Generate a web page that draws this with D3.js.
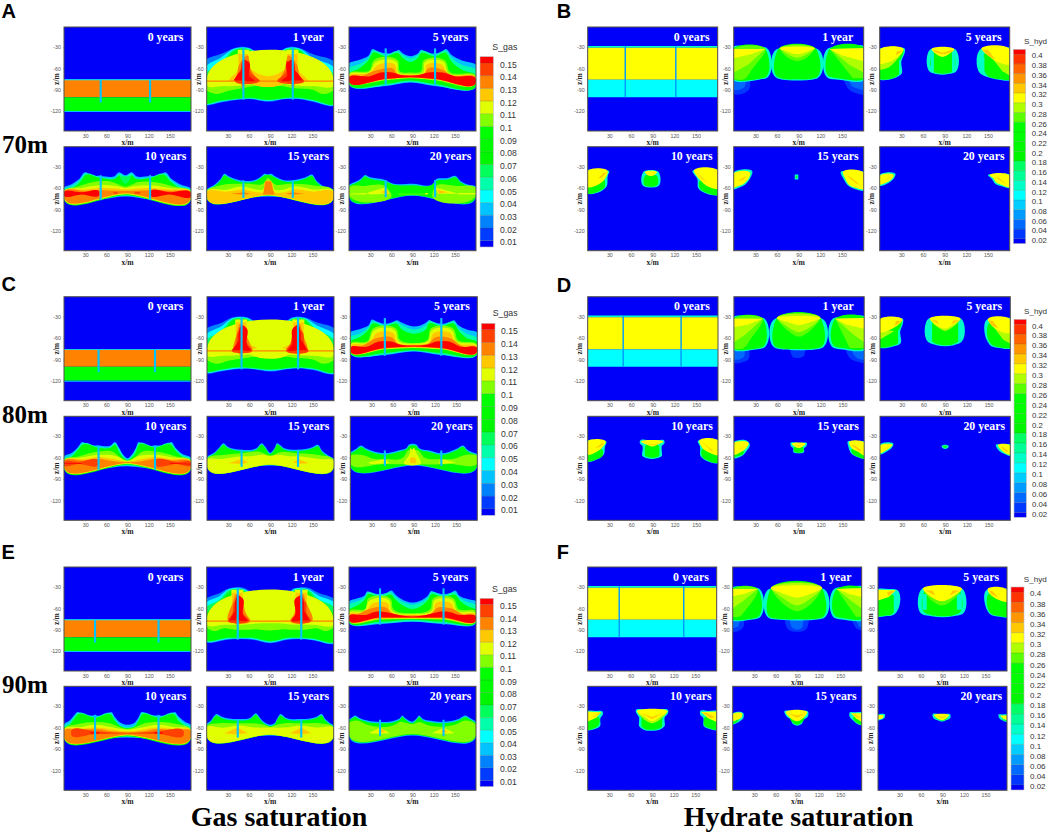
<!DOCTYPE html>
<html><head><meta charset="utf-8">
<script src="https://cdn.jsdelivr.net/npm/d3@7"></script>
<style>html,body{margin:0;background:#fff}svg{display:block}</style></head>
<body><svg id="c" width="1052" height="834"></svg>
<script>
// ---------- values ----------
const xTickValues=[30,60,90,120,150];
const zTickValues=[-30,-60,-90,-120];
const timeLabels=["0 years","1 year","5 years","10 years","15 years","20 years"];
const gasLevels=[.01,.02,.03,.04,.05,.06,.07,.08,.09,.1,.11,.12,.13,.14,.15];
const hydLevels=[.02,.04,.06,.08,.1,.12,.14,.16,.18,.2,.22,.24,.26,.28,.3,.32,.34,.36,.38,.4];
const gasColors=["#0000fa","#003cff","#0082ff","#00c3ff","#00ffff","#00ffaa","#00ff5a","#00f500","#00fa00","#00ff00","#82ff00","#e1ff00","#ffc800","#ff8200","#ff4100","#ff0000"];
const hydColors=["#0000fa","#0037ff","#0069ff","#009bff","#00cdff","#00ffff","#00ffc8","#00ff96","#00ff64","#00f500","#00fa00","#00ff00","#00ff00","#5aff00","#afff00","#ffff00","#ffc800","#ff9600","#ff6400","#ff3200","#ff0000"];
const wells70=[52,122], wells80=[49,129], wells90=[44,134];
const gasSpans70=[[-76,-108],[-31,-104],[-32,-85],[-42,-77],[-49,-74],[-49,-73]];
const gasSpans80=[[-76,-108],[-31,-104],[-32,-85],[-43,-77],[-49,-73],[-50,-72]];
const gasSpans90=[[-76,-108],[-31,-104],[-32,-83],[-42,-77],[-48,-74],[-49,-72]];
const hydSpan0=[-28.5,-100.5];

// each layer: saturation, then x,z,x,z... of its contour
const gas0=[[.135,0,-76,180,-76,180,-100.5,0,-100.5],[.095,0,-100.5,180,-100.5,180,-120,0,-120],[.035,0,-120,180,-120,180,-121.5,0,-121.5],[.045,0,-75.5,180,-75.5,180,-76.6,0,-76.6]];
const hyd0=[[.13,0,-28.5,180,-28.5,180,-31,0,-31],[.31,0,-31,180,-31,180,-76,0,-76],[.11,0,-76,180,-76,180,-100.5,0,-100.5]];

const gas70y1=[
[.025,0,-47,20,-40,41,-31,46,-30,60,-31,70,-36,87,-42,103,-36,113,-31,118,-30,130,-31,150,-40,180,-50,180,-113,150,-107,130,-103,113,-103,88,-107,60,-103,45,-104,20,-108,0,-112],
[.045,0,-56,20,-45,41,-32,60,-32,70,-38,87,-44,103,-38,113,-32,130,-32,150,-45,180,-58,180,-112,150,-106,130,-102.5,113,-102.5,88,-106,60,-102.5,45,-103.5,20,-107,0,-111],
[.065,0,-66,20,-52,41,-33,60,-33,72,-41,87,-47,102,-41,113,-33,130,-33,150,-52,180,-68,180,-111,150,-105,130,-102,113,-102,88,-105,60,-102,45,-103,20,-106,0,-110],
[.09,0,-73,20,-60,41,-35,60,-35,72,-44,87,-52,102,-44,113,-35,130,-35,150,-58,180,-73,180,-110,150,-104,130,-101,113,-101,88,-104,60,-101,45,-102,20,-105,0,-109],
[.105,0,-78,180,-78,180,-90,165,-96,150,-90,125,-88,100,-84,75,-84,50,-88,30,-92,15,-96,0,-90],
[.105,60,-45,72,-55,87,-60,102,-55,113,-45,113,-77,60,-77],[.105,44,-45,44,-77,0,-77,20,-66],[.105,130,-45,130,-77,180,-77,160,-66],
[.115,0,-77,180,-77,180,-83,150,-85,125,-84,100,-81,75,-81,50,-84,25,-85,0,-83],
[.115,60,-52,72,-62,87,-66,102,-62,113,-52,113,-77,60,-77],[.115,44,-55,44,-77,10,-77],[.115,130,-55,130,-77,170,-77],
[.115,44,-34,60,-34,60,-78,44,-78],[.115,113,-34,130,-34,130,-78,113,-78],
[.125,60,-62,74,-68,87,-71,100,-68,113,-62,113,-76,60,-76],[.125,45,-40,59,-40,59,-78,45,-78],[.125,114,-40,129,-40,129,-78,114,-78],[.125,35,-72,47,-62,47,-78,30,-78],[.125,127,-62,139,-72,145,-78,127,-78],
[.135,0,-77,180,-77,180,-79,0,-79],[.135,46,-55,58,-42,62,-60,70,-76,46,-79],[.135,111,-60,116,-42,128,-55,128,-79,105,-76],[.135,48,-78,51,-94,55,-78],[.135,119,-78,122,-94,126,-78],
[.145,43,-70,60,-50,62,-65,75,-77,40,-77],[.145,113,-50,131,-70,138,-77,100,-77,112,-65],
[.155,54,-48,60,-52,61,-72,68,-77,54,-77],[.155,44,-68,50,-62,50,-77,38,-77],[.155,114,-52,120,-48,120,-77,106,-77,113,-72],[.155,124,-62,130,-68,136,-77,124,-77]];
const gas70y5=[
[.03,0,-53,15,-48,28,-42,34,-33,38,-35,52,-39,66,-37,70,-34,76,-39,87,-43,98,-39,102,-34,108,-37,122,-39,133,-36,137,-33,145,-41,160,-49,180,-55,180,-86,122,-85,87,-80,52,-85,0,-83],
[.055,0,-60,15,-54,28,-45,34,-35,52,-41,70,-36,76,-41,87,-46,98,-41,102,-36,122,-41,137,-35,145,-45,160,-55,180,-62,180,-85,122,-84,87,-79,52,-84,0,-82],
[.09,0,-68,15,-60,28,-48,34,-38,52,-43,70,-39,76,-45,87,-51,98,-45,102,-39,122,-43,137,-38,145,-50,160,-62,180,-70,180,-84,122,-82,87,-77,52,-82,0,-81],
[.105,0,-68,30,-62,34,-50,70,-50,72,-64,87,-66,102,-64,105,-50,137,-50,142,-64,180,-72,180,-79,122,-77,87,-74,52,-77,0,-77],
[.115,0,-70,30,-64,37,-52,68,-52,70,-66,87,-68,105,-66,107,-52,135,-52,140,-66,180,-74,180,-78,122,-76,87,-73.5,52,-76,0,-76],
[.125,0,-72,30,-66,40,-56,66,-56,68,-66,87,-69,108,-66,109,-56,133,-56,138,-66,180,-75,180,-77.5,122,-75.5,87,-73,52,-75.5,0,-76],
[.135,20,-70,42,-62,64,-62,66,-66,87,-69.5,108,-66,110,-62,133,-62,145,-70,180,-75,180,-77,122,-75,87,-73,52,-75,0,-76],
[.155,0,-74,30,-71,45,-66,62,-66,72,-69,87,-70.5,100,-69,112,-66,133,-66,150,-71,180,-76,180,-77.5,122,-75,87,-72.5,52,-75,0,-76.5]];
const gas70y10=[
[.03,0,-59,10,-55,22,-47,30,-38,38,-42,52,-43,72,-43,78,-38,84,-41,87,-42,90,-41,96,-38,102,-43,122,-43,138,-42,143,-38,152,-47,165,-55,180,-61,180,-76,122,-76,87,-72,52,-76,0,-76],
[.05,0,-62,10,-58,22,-49,30,-40,52,-45,74,-45,78,-40,87,-44,96,-40,100,-45,122,-45,143,-40,152,-49,165,-58,180,-63,180,-75,122,-75,87,-71,52,-75,0,-75],
[.09,0,-64,12,-60,24,-50,30,-42,52,-46,74,-46,78,-42,82,-48,87,-52,92,-48,96,-42,100,-46,122,-46,143,-42,150,-50,165,-60,180,-65,180,-74,87,-70,0,-74],
[.065,80,-44,87,-44,94,-44,92,-50,87,-54,82,-50],
[.105,0,-65,20,-58,40,-52,70,-52,80,-56,87,-58,94,-56,104,-52,130,-52,155,-58,180,-66,180,-72.5,87,-69,0,-72.5],
[.115,0,-65.5,25,-60,50,-56,78,-58,87,-60,96,-58,122,-56,150,-60,180,-67,180,-71.5,87,-68.5,0,-71.5],
[.125,0,-66,30,-62,52,-60,78,-61,87,-62,100,-61,122,-60,150,-62,180,-67.5,180,-71,87,-68,0,-71],
[.135,0,-66,30,-64,52,-63,75,-64,87,-64,100,-64,122,-63,150,-64,180,-68,180,-70.5,87,-67.5,0,-70.5],
[.155,0,-67,25,-66,50,-66,50,-69,25,-69,0,-69.5],[.155,122,-66,150,-66,180,-68.5,180,-70,150,-69,122,-69],[.145,70,-65.5,76,-65.5,76,-68,70,-68],[.145,100,-65.5,108,-65.5,108,-68,100,-68]];
const gas70y15=[
[.03,0,-62,10,-56,20,-47,25,-40,32,-44,52,-50,70,-48,78,-43,82,-40,87,-41,91,-40,96,-43,110,-49,122,-49,140,-45,149,-41,156,-50,168,-59,180,-63,180,-74,122,-74,87,-72,52,-74,0,-74],
[.09,0,-64,10,-58,20,-49,25,-42,32,-46,52,-52,70,-50,78,-45,82,-42,91,-42,96,-45,110,-51,122,-51,140,-47,149,-43,156,-52,168,-61,180,-65,180,-72,87,-70.5,0,-72],
[.105,0,-65,20,-56,40,-54,60,-54,80,-54,87,-46,95,-54,120,-54,150,-56,180,-65,180,-71,87,-70,0,-71],
[.115,0,-66,30,-62,50,-58,70,-62,80,-62,83,-52,92,-52,96,-62,110,-62,122,-58,150,-62,180,-66,180,-70.5,87,-70,0,-70.5],
[.125,0,-67,30,-65,52,-62,72,-66,80,-66,84,-50,91,-50,96,-66,110,-66,122,-62,150,-65,180,-67,180,-70,87,-69.5,0,-70],
[.135,83,-51,91,-51,96,-69,80,-69],[.135,35,-68,52,-66,62,-68,52,-69.5],[.135,112,-68,122,-66,138,-68,122,-69.5]];
const gas70y20=[
[.03,0,-56,10,-51,18,-46,22,-42,30,-45,52,-49,60,-53,90,-54,120,-53,122,-49,140,-46,151,-43,158,-50,168,-55,180,-58,180,-72,90,-71,0,-72],
[.09,0,-58,10,-53,18,-48,22,-44,30,-47,52,-51,62,-55,90,-56,118,-55,122,-51,140,-48,151,-45,158,-52,168,-57,180,-60,180,-70.5,90,-70,0,-70.5],
[.105,0,-60,22,-57,52,-58,60,-69,0,-69],[.105,122,-58,152,-57,180,-61,180,-69,118,-69],[.105,70,-68,110,-68,110,-69,70,-69],
[.115,25,-67,52,-59,58,-68,30,-69],[.115,122,-59,126,-68,155,-68],[.115,0,-68,25,-67,25,-69,0,-69],[.115,155,-67,180,-67,180,-69,155,-69],
[.125,45,-66,54,-62,56,-68],[.125,124,-62,128,-68,140,-66],[.115,108,-67,112,-67,112,-69,108,-69]];

const gas80y1=[
[.025,0,-46,20,-39,37,-31,42,-30,57,-31,70,-38,90,-45,110,-38,121,-31,126,-30,138,-31,155,-38,180,-46,180,-111,150,-105,138,-103,121,-103,90,-107,57,-103,40,-104,20,-107,0,-110],
[.045,0,-54,20,-44,37,-32,57,-32,70,-40,90,-47,110,-40,121,-32,138,-32,155,-42,180,-54,180,-110,150,-104,138,-102.5,121,-102.5,90,-106,57,-102.5,40,-103,20,-106,0,-109],
[.065,0,-62,20,-50,37,-33,57,-33,72,-44,90,-53,108,-44,121,-33,138,-33,155,-48,180,-62,180,-109,150,-103,138,-102,121,-102,90,-105,57,-102,40,-102,20,-105,0,-108],
[.09,0,-70,20,-58,37,-35,57,-35,72,-48,90,-59,108,-48,121,-35,138,-35,155,-55,180,-70,180,-108,150,-102,138,-101,121,-101,90,-104,57,-101,40,-101,20,-104,0,-107],
[.105,0,-78,180,-78,180,-90,165,-96,150,-90,125,-88,105,-86,90,-88,75,-86,55,-88,30,-92,15,-96,0,-90],
[.105,57,-50,72,-62,90,-68,108,-62,121,-50,121,-77,57,-77],[.105,40,-47,40,-77,5,-77,20,-66],[.105,138,-47,138,-77,175,-77,160,-66],
[.115,0,-77,180,-77,180,-83,150,-85,125,-84,100,-82,80,-82,50,-84,25,-85,0,-83],
[.115,57,-58,72,-68,90,-72,108,-68,121,-58,121,-77,57,-77],[.115,40,-55,40,-77,15,-77],[.115,138,-55,138,-77,165,-77],
[.115,40,-34,57,-34,57,-78,40,-78],[.115,121,-34,138,-34,138,-78,121,-78],
[.125,41,-38,56,-38,56,-78,41,-78],[.125,122,-38,137,-38,137,-78,122,-78],[.125,57,-68,72,-74,57,-77],[.125,121,-68,106,-74,121,-77],
[.135,0,-77,180,-77,180,-79,0,-79],[.135,42,-55,47,-40,55,-55,62,-70,65,-77,38,-77],[.135,114,-77,118,-70,124,-55,131,-40,136,-55,142,-77],[.135,45,-78,48,-92,52,-78],[.135,127,-78,130,-92,133,-78],
[.145,40,-70,46,-50,53,-50,57,-68,64,-77,35,-77],[.145,118,-68,124,-50,134,-50,139,-70,144,-77,112,-77],
[.155,51,-42,56,-46,57,-70,62,-77,51,-77],[.155,41,-70,47,-60,47,-77,36,-77],[.155,122,-46,127,-42,127,-77,115,-77,120,-70],[.155,131,-60,137,-68,142,-77,131,-77]];
const gas80y5=[
[.03,0,-52,15,-47,26,-42,31,-34,36,-36,49,-40,60,-38,66,-35,72,-38,90,-44,108,-38,111,-35,118,-38,129,-40,142,-37,147,-35,152,-41,165,-48,180,-52,180,-83,129,-84,90,-79,49,-84,0,-82],
[.055,0,-59,15,-53,26,-45,31,-37,49,-42,66,-37,72,-41,90,-48,108,-41,111,-37,129,-42,147,-37,152,-45,165,-54,180,-60,180,-82,129,-83,90,-78,49,-83,0,-81],
[.09,0,-66,15,-58,26,-48,31,-40,49,-44,66,-40,72,-47,90,-54,108,-47,111,-40,129,-44,147,-40,154,-50,165,-60,180,-66,180,-81,129,-81,90,-77,49,-81,0,-80],
[.105,0,-68,25,-64,31,-48,66,-48,70,-62,90,-67,110,-62,113,-48,147,-48,152,-62,180,-70,180,-78,129,-76,90,-74,49,-76,0,-78],
[.115,0,-70,25,-66,33,-50,64,-50,68,-64,90,-68,110,-64,115,-50,145,-50,150,-64,180,-72,180,-77.5,129,-75.5,90,-73.5,49,-75.5,0,-77.5],
[.125,0,-72,28,-67,36,-54,62,-54,66,-66,90,-69,112,-66,117,-54,143,-54,148,-66,180,-74,180,-77,129,-75,90,-73,49,-75,0,-77],
[.135,15,-72,38,-60,60,-60,66,-67,90,-70,112,-67,119,-60,141,-60,160,-72,180,-75,180,-76.5,129,-74.5,90,-72.5,49,-74.5,0,-76.5],
[.155,0,-75,25,-72,40,-65,58,-65,70,-69,90,-70.5,110,-69,122,-65,140,-65,155,-72,180,-75.5,180,-76.5,129,-74,90,-72,49,-74,0,-76.5]];
const gas80y10=[
[.03,0,-58,10,-54,20,-45,26,-38,32,-42,49,-43,66,-43,72,-38,78,-46,84,-56,90,-61,96,-56,102,-46,106,-38,112,-43,129,-43,146,-42,152,-38,158,-46,168,-55,180,-60,180,-76,129,-76,90,-72,49,-76,0,-76],
[.05,0,-61,10,-57,20,-47,26,-40,49,-45,66,-45,72,-40,78,-48,84,-58,90,-63,96,-58,102,-48,106,-40,129,-45,152,-40,158,-48,168,-57,180,-62,180,-75,129,-75,90,-71,49,-75,0,-75],
[.09,0,-63,10,-59,20,-49,26,-42,49,-46,66,-46,72,-42,78,-52,84,-60,90,-64,96,-60,102,-52,106,-42,129,-46,152,-42,158,-50,168,-59,180,-64,180,-74,90,-70,0,-74],
[.105,0,-64,22,-58,45,-52,70,-52,80,-60,90,-64,100,-60,110,-52,135,-52,158,-58,180,-65,180,-72,90,-69,0,-72],
[.115,0,-65,25,-60,50,-56,75,-58,90,-65,105,-58,129,-56,155,-60,180,-66,180,-71.5,90,-68.5,0,-71.5],
[.125,0,-65.5,30,-62,49,-59,70,-62,90,-65.5,110,-62,129,-59,150,-62,180,-67,180,-71,90,-68,0,-71],
[.135,0,-66,30,-64,49,-62,70,-65,90,-66.5,110,-65,129,-62,150,-64,180,-67.5,180,-70.5,90,-67.5,0,-70.5],
[.145,0,-67,20,-66,49,-65,49,-69,20,-69,0,-70],[.145,129,-65,160,-66,180,-68,180,-70,160,-69,129,-69],[.155,0,-68,25,-67.5,25,-68.5,0,-69],[.155,150,-67.5,180,-68.5,180,-69.5,150,-68.5]];
const gas80y15=[
[.03,0,-59,10,-53,18,-45,23,-40,30,-45,49,-49,70,-47,78,-40,82,-44,90,-53,96,-46,99,-40,110,-47,129,-49,150,-45,157,-42,163,-50,172,-57,180,-62,180,-73,129,-73,90,-71,49,-73,0,-73],
[.09,0,-61,10,-55,18,-47,23,-42,30,-47,49,-51,70,-49,78,-42,82,-46,90,-55,96,-48,99,-42,110,-49,129,-51,150,-47,157,-44,163,-52,172,-59,180,-64,180,-71.5,90,-70,0,-71.5],
[.105,0,-62,25,-56,49,-54,75,-52,90,-57,105,-52,129,-54,155,-56,180,-64,180,-71,90,-70,0,-71],
[.115,0,-64,20,-62,49,-58,62,-58,80,-56,90,-58,100,-56,118,-58,129,-58,160,-62,180,-65,180,-70.5,90,-69.5,0,-70.5],
[.125,30,-68,49,-62,58,-67,50,-69],[.125,122,-67,129,-62,145,-68,130,-69]];
const gas80y20=[
[.03,0,-53,8,-48,15,-43,22,-47,49,-54,68,-50,80,-46,83,-42,94,-42,97,-46,112,-50,129,-54,150,-48,160,-43,166,-49,172,-52,180,-55,180,-71.5,90,-71,0,-71.5],
[.09,0,-55,8,-50,15,-45,22,-49,49,-56,68,-52,80,-48,83,-44,94,-44,97,-48,112,-52,129,-56,150,-50,160,-45,166,-51,172,-54,180,-57,180,-70.5,90,-70,0,-70.5],
[.105,0,-58,15,-56,35,-62,49,-62,75,-60,82,-50,96,-50,105,-60,129,-62,145,-62,165,-56,180,-58,180,-67,140,-69,49,-69,0,-67],
[.115,25,-67,49,-62,56,-68,30,-69],[.115,125,-68,129,-62,150,-67,130,-69],[.115,76,-68,85,-52,85,-46,88,-49,90,-46,93,-52,100,-68],[.125,85,-60,92,-60,94,-68,84,-68]];

const gas90y1=[
[.025,0,-46,18,-39,32,-32,36,-31,52,-31,65,-38,90,-47,115,-38,124,-32,130,-31,143,-31,158,-38,180,-46,180,-110,150,-105,134,-103,115,-104,90,-109,65,-104,44,-103,30,-104,0,-108],
[.045,0,-51,18,-43,32,-33,52,-33,65,-41,90,-49,115,-41,124,-33,143,-33,158,-42,180,-51,180,-109,150,-104,134,-102.5,115,-103,90,-108,65,-103,44,-102.5,30,-103,0,-107],
[.065,0,-58,18,-48,33,-34,52,-34,67,-45,90,-54,113,-45,125,-34,143,-34,158,-47,180,-58,180,-108,150,-103,134,-102,115,-102,90,-107,65,-102,44,-102,30,-102,0,-106],
[.09,0,-66,18,-55,34,-36,52,-36,67,-52,90,-62,113,-52,125,-36,143,-36,158,-54,180,-66,180,-107,150,-102,134,-101,115,-101,90,-106,65,-101,44,-101,30,-101,0,-105],
[.105,0,-79,180,-79,180,-86,170,-92,155,-88,140,-90,120,-90,100,-89,80,-89,60,-90,40,-90,25,-88,10,-92,0,-86],
[.105,53,-58,66,-68,85,-74,95,-74,114,-68,125,-58,125,-77,53,-77],[.105,34,-52,34,-77,5,-77,18,-66],[.105,143,-52,143,-77,175,-77,160,-66],
[.115,0,-77,180,-77,180,-82,150,-83,125,-83,100,-81,80,-81,50,-83,25,-83,0,-82],
[.115,53,-68,70,-74,70,-77,53,-77],[.115,125,-68,108,-74,108,-77,125,-77],[.115,34,-62,34,-77,18,-77],[.115,143,-62,143,-77,160,-77],
[.115,35,-34,52,-34,52,-78,35,-78],[.115,125,-34,143,-34,143,-78,125,-78],
[.125,36,-38,51,-38,51,-78,36,-78],[.125,126,-38,142,-38,142,-78,126,-78],
[.135,0,-77,180,-77,180,-79,0,-79],[.135,37,-52,42,-40,50,-50,56,-68,62,-77,30,-77],[.135,118,-77,124,-68,127,-50,136,-40,141,-52,150,-77],[.135,41,-78,44,-90,47,-78],[.135,131,-78,134,-90,137,-78],
[.145,36,-68,41,-50,48,-50,52,-68,60,-77,30,-77],[.145,120,-77,126,-68,130,-50,139,-50,142,-68,148,-77],
[.155,46,-42,51,-46,52,-70,58,-77,46,-77],[.155,36,-70,42,-60,42,-77,32,-77],[.155,126,-46,132,-42,132,-77,120,-77,125,-70],[.155,136,-60,142,-70,146,-77,136,-77]];
const gas90y5=[
[.03,0,-50,12,-46,22,-42,26,-36,32,-38,44,-40,54,-38,60,-35,66,-41,78,-49,90,-52,102,-49,112,-42,116,-36,124,-38,134,-40,145,-38,150.5,-35,156,-42,168,-47,180,-50,180,-81,134,-82,90,-79,44,-82,0,-81],
[.055,0,-55,12,-50,22,-45,26,-38,44,-42,60,-38,66,-44,78,-52,90,-55,102,-52,112,-45,116,-38,134,-42,150.5,-38,156,-45,168,-51,180,-55,180,-80,134,-81,90,-78,44,-81,0,-80],
[.09,0,-62,12,-56,22,-48,26,-41,44,-44,60,-41,66,-48,78,-57,90,-61,102,-57,112,-48,116,-41,134,-44,150.5,-41,158,-50,168,-57,180,-62,180,-79,134,-79,90,-76,44,-79,0,-79],
[.105,0,-64,24,-60,26,-48,60,-48,62,-60,90,-67,116,-60,118,-48,150,-48,154,-60,180,-65,180,-77,134,-76,90,-75,44,-76,0,-77],
[.115,0,-67,22,-63,28,-50,58,-50,60,-62,90,-68,118,-62,120,-50,148,-50,152,-62,180,-68,180,-76,134,-75,90,-74.5,44,-75,0,-76],
[.125,0,-69,24,-65,32,-54,56,-54,58,-64,90,-69,120,-64,122,-54,146,-54,150,-65,180,-70,180,-75.5,134,-74.5,90,-74,44,-74.5,0,-75.5],
[.135,10,-70,32,-60,54,-60,60,-66,90,-70,118,-66,124,-60,144,-60,168,-71,180,-71.5,180,-75,134,-74,90,-73.5,44,-74,0,-75],
[.155,0,-72,25,-69,36,-65,52,-65,65,-68,90,-71.5,115,-68,126,-65,142,-65,155,-69,180,-73,180,-74.5,134,-73,90,-73,44,-73,0,-74.5]];
const gas90y10=[
[.03,0,-55,8,-50,15,-42,19,-38,26,-42,44,-43,62,-42,67,-38,72,-45,80,-53,90,-56,100,-53,106,-45,110,-38,118,-42,134,-43,152,-42,157,-38,162,-44,172,-52,180,-56,180,-76,134,-76,90,-74,44,-76,0,-75],
[.05,0,-58,8,-53,15,-44,19,-40,44,-45,67,-40,72,-48,80,-57,90,-60,100,-57,106,-48,110,-40,134,-45,157,-40,162,-47,172,-55,180,-59,180,-75,134,-75,90,-73,44,-75,0,-74],
[.09,0,-61,8,-56,15,-47,19,-42,44,-46,67,-42,72,-50,80,-58,90,-61,100,-58,106,-50,110,-42,134,-46,157,-42,162,-50,172,-58,180,-62,180,-74,90,-72,0,-74],
[.105,0,-62,20,-55,44,-52,65,-54,80,-60,90,-62,100,-60,114,-54,134,-52,160,-55,180,-63,180,-72,90,-71,0,-72],
[.115,0,-63,25,-59,44,-56,70,-60,90,-63,110,-60,134,-56,155,-59,180,-64,180,-71.5,90,-70.5,0,-71.5],
[.125,0,-64,25,-62,44,-60,70,-63,90,-65,110,-63,134,-60,155,-62,180,-65,180,-71,90,-70,0,-71],
[.135,0,-65,25,-64,44,-62,70,-65.5,90,-66.5,110,-65.5,134,-62,155,-64,180,-66,180,-70.5,90,-69.5,0,-70.5],
[.145,10,-66,44,-65,70,-67,110,-67,134,-65,170,-67,170,-69,134,-69,110,-68.5,70,-68.5,44,-69,10,-69],[.155,38,-66.5,50,-66.5,50,-68.5,38,-68.5],[.155,128,-66.5,140,-66.5,140,-68.5,128,-68.5]];
const gas90y15=[
[.03,0,-55,6,-50,11,-43,14,-41,20,-44,44,-48,62,-46,70,-40,76,-47,84,-54,90,-56,96,-54,100,-47,104.6,-41,112,-46,134,-48,155,-45,163,-41,168,-48,174,-53,180,-57,180,-73,134,-74,90,-71,44,-74,0,-73],
[.09,0,-57,6,-52,11,-45,14,-43,20,-46,44,-50,62,-48,70,-42,76,-49,84,-56,90,-58,96,-56,100,-49,104.6,-43,112,-48,134,-50,155,-47,163,-43,168,-50,174,-55,180,-59,180,-71.5,90,-70,0,-71.5],
[.105,0,-58,18,-54,44,-54,65,-54,84,-57,90,-59,96,-57,110,-54,134,-54,160,-54,180,-60,180,-71,90,-70,0,-71],
[.115,0,-60,25,-60,44,-57,70,-60,90,-60,110,-60,134,-57,155,-60,180,-61,180,-70.5,90,-69.5,0,-70.5],
[.125,25,-68,44,-60,58,-68,40,-69.5],[.125,118,-68,134,-60,148,-68,134,-69.5]];
const gas90y20=[
[.03,0,-49,5,-45,8.5,-43,14,-46,26,-50,44,-52,65,-50,72,-47,75.5,-43,80,-47,90,-51.5,96,-47,99,-43,105,-48,120,-51,134,-52,155,-48,165.5,-43,172,-47,180,-52,180,-72,90,-71,0,-72],
[.09,0,-51,5,-47,8.5,-45,14,-48,26,-52,44,-54,65,-52,72,-49,75.5,-45,80,-49,90,-53.5,96,-49,99,-45,105,-50,120,-53,134,-54,155,-50,165.5,-45,172,-49,180,-54,180,-70.5,90,-70,0,-70.5],
[.105,0,-53,10,-50,26,-56,65,-56,72,-52,90,-55,100,-52,110,-56,150,-56,165,-50,180,-56,180,-69,90,-69,0,-69],
[.115,28,-68,44,-60,58,-68,42,-69],[.115,118,-68,134,-60,150,-68,134,-69],[.125,42,-66,47,-62,52,-67],[.125,130,-67,134,-62,140,-66]];

const hyd70y1=[
[.03,0,-76,22,-76,21,-90,14,-95,0,-96],[.05,0,-76,16,-76,15,-86,8,-90,0,-90],[.03,153,-76,180,-76,180,-97,170,-95,160,-90],[.05,160,-76,180,-76,180,-90,170,-88,163,-84],
[.13,0,-29,25,-30,45,-31,45,-74,35,-76,0,-77],[.25,0,-32,43,-32,43,-73,33,-75,0,-75.5],[.27,0,-33,44,-33,25,-62,15,-75,0,-75],[.29,0,-33,44,-33,20,-55,0,-66],[.31,0,-33,44,-33,25,-40,0,-46],
[.13,60,-33,65,-31,88,-30,110,-31,116,-33,116,-74,108,-76,88,-77,68,-76,60,-74],[.25,62,-33,114,-33,114,-73,106,-75,88,-75.5,70,-75,62,-73],[.27,64,-33,112,-33,100,-46,88,-50,76,-46],[.29,64,-33,112,-33,100,-41,88,-45,76,-41],[.31,65,-33,111,-33,100,-37,88,-40,76,-37],
[.13,131,-32,150,-30,180,-29,180,-77,145,-76,131,-74],[.25,133,-33,180,-31,180,-75,145,-74,133,-72],[.27,133,-33,180,-32,180,-74,165,-74],[.29,133,-33,180,-32,180,-66,160,-55],[.31,133,-33,180,-32,180,-50,150,-42]];
const hyd70y5=[
[.13,0,-32,20,-32,35,-33.5,35,-36,30,-50,30,-68,20,-74,0,-76],[.25,0,-34,33,-34,27,-55,27,-68,20,-73,0,-75],[.29,0,-34,33,-34,22,-50,10,-60,0,-62],[.31,0,-34,33,-34,25,-44,10,-52,0,-54],[.335,24,-36,33,-35,22,-42],[.13,27,-48,28.5,-48,28.5,-68,27,-68],
[.05,67,-48,70,-48,70,-60,67,-60],[.05,104,-48,107,-48,107,-60,104,-60],[.13,71,-33,87,-33,104,-33,104,-66,95,-68,87,-69,78,-68,71,-66],[.25,75,-36,100,-36,100,-65,94,-67,87,-67.5,80,-67,75,-65],[.13,71,-35,75,-35,75,-65,71,-65],[.13,100,-35,104,-35,104,-65,100,-65],[.31,72,-34,103,-34,96,-40,87,-44,78,-40],[.335,74,-35,87,-40,102,-35,98,-35,87,-38,78,-35],
[.13,140,-33,160,-32,180,-31,180,-77,165,-76,148,-72,140,-68],[.25,146,-38,180,-33,180,-76,165,-75,150,-71,146,-66],[.29,148,-36,180,-33,180,-70,170,-64],[.31,141,-33.5,180,-33,180,-55,165,-52,150,-42],[.335,142,-34,150,-34,160,-48,150,-42],[.13,141,-40,145,-45,145,-68,141,-66]];
const hyd70y10=[
[.13,0,-35,20,-35,30,-37,28,-42,26,-58,18,-65,0,-68],[.25,0,-58,24,-50,24,-58,17,-64,0,-67],[.31,0,-36,28,-37.5,24,-47,15,-55,0,-59],[.335,14,-47,22,-39,26,-38,20,-45],[.13,24,-48,26,-48,26,-58,24,-58],
[.13,77,-37.5,98,-37.5,98,-57,92,-59,83,-59,77,-57],[.25,79,-43,96,-43,96,-56,91,-58,84,-58,79,-56],[.31,79,-38,96,-38,92,-42,87,-43,83,-42],
[.13,145,-36,160,-35,180,-34,180,-70,165,-68,153,-60,152,-48],[.25,154,-52,180,-61,180,-69,165,-67,155,-60],[.31,147,-36,180,-35,180,-61,165,-57,155,-48],[.335,150,-37,165,-52,170,-56,158,-47]];
const hyd70y15=[
[.13,0,-38,26,-38,24,-44,16,-55,6,-60,0,-62],[.31,0,-39.5,23,-40,22,-44,14,-54,5,-58,0,-60],[.335,6,-50,14,-45,18,-44,12,-49],
[.13,84.5,-41,89.5,-41,89.5,-48,84.5,-48],[.25,86,-43,88,-43,88,-46,86,-46],
[.13,148,-38,165,-37,180,-37,180,-64,170,-62,158,-56,152,-47],[.31,151,-39,180,-38.5,180,-62,170,-60,159,-55,154,-46],[.335,156,-42,170,-54,174,-55,162,-45]];
const hyd70y20=[
[.13,0,-41.5,22,-41.5,20,-46,12,-53,0,-57],[.31,0,-43,19.5,-43,18,-46,10,-52,0,-55],[.335,6,-50,13,-45,15,-44,10,-48],
[.13,150,-42,165,-41,180,-41,180,-60,170,-58,160,-54,155,-47],[.31,153,-43,180,-42.5,180,-59,170,-56,161,-52,157,-46],[.335,161,-45,172,-53,175,-54,165,-46]];

const hyd80y1=[
[.03,0,-76,20,-76,20,-90,12,-94,0,-95],[.05,0,-76,14,-76,14,-86,8,-90,0,-90],[.03,78,-76,98,-76,96,-86,90,-88,82,-87],[.03,155,-76,180,-76,180,-95,170,-93,160,-88],[.05,163,-76,180,-76,180,-90,170,-88,166,-84],
[.13,0,-30,25,-30,41,-32,41,-74,30,-76,0,-77],[.25,0,-32,39,-32,39,-73,28,-75,0,-75.5],[.27,0,-33,40,-33,24,-60,12,-75,0,-75],[.29,0,-33,40,-33,16,-55,0,-66],[.31,0,-33,40,-33,20,-41,0,-45],
[.13,57,-33,65,-31,90,-30,115,-31,122,-33,122,-74,112,-76,90,-77,68,-76,57,-74],[.25,59,-33,120,-33,120,-73,110,-75,90,-75.5,70,-75,59,-73],[.27,60,-33,119,-33,105,-50,90,-58,75,-50],[.29,60,-33,119,-33,105,-45,90,-52,75,-45],[.31,60,-33,119,-33,105,-38,90,-42,75,-38],
[.13,138,-32,155,-30,180,-29,180,-77,150,-76,138,-74],[.25,140,-33,180,-31,180,-75,150,-74,140,-72],[.27,140,-33,180,-32,180,-74,160,-74],[.29,140,-33,180,-32,180,-66,165,-55],[.31,140,-33,180,-32,180,-47,155,-41]];
const hyd80y5=[
[.13,0,-33,20,-33,32,-34,32,-38,28,-50,28,-68,18,-72,0,-74],[.25,0,-40,30,-36,25,-55,25,-67,17,-71,0,-73],[.29,0,-48,20,-50,0,-62],[.31,0,-34,31,-35,22,-44,10,-50,0,-52],[.335,22,-36,31,-35.5,20,-43],[.13,25,-48,27,-48,27,-67,25,-67],
[.05,64,-50,67,-50,67,-62,64,-62],[.05,112,-50,115,-50,115,-62,112,-62],
[.13,67,-33,90,-33,112,-33,112,-66,102,-70,90,-71.5,78,-70,67,-66],[.25,72,-36,108,-36,108,-65,100,-69,90,-70,80,-69,72,-65],[.13,67,-35,72,-35,72,-64,67,-64],[.13,108,-35,112,-35,112,-64,108,-64],[.29,70,-35,110,-35,100,-45,90,-50,80,-45],[.31,69,-34,111,-34,100,-42,90,-47,78,-42],[.335,71,-35,82,-41,78,-35],[.335,98,-41,110,-35,102,-35],
[.13,148,-34,165,-33,180,-32,180,-75,165,-74,152,-70,148,-64],[.25,150,-40,180,-35,180,-74,165,-73,154,-69,150,-63],[.29,152,-38,180,-36,180,-68,170,-62],[.31,149,-35,180,-34,180,-53,165,-50,154,-42],[.335,150,-35,156,-36,164,-47,154,-42]];
const hyd80y10=[
[.13,0,-36,16,-36,26,-38,24,-44,22,-56,14,-62,0,-66],[.25,0,-54,21,-50,20,-58,13,-62,0,-65],[.31,0,-37,25,-38.5,20,-46,12,-52,0,-56],[.335,10,-47,20,-40,23,-39,16,-45],
[.13,72,-37,90,-36.5,106,-37,106,-40,102,-44,102,-58,95,-61,90,-62,82,-61,76,-58,76,-44,72,-40],[.25,79,-44,99,-44,99,-57,94,-60,86,-60,79,-57],[.31,74,-38,104,-38,96,-42,90,-44.5,82,-42],[.335,78,-39,90,-43,101,-39,90,-41.5],[.13,76,-44,79,-44,79,-57,76,-57],[.13,99,-44,102,-44,102,-57,99,-57],
[.13,152,-37,165,-36,180,-35,180,-68,168,-66,156,-58,155,-44],[.25,157,-50,180,-56,180,-67,168,-65,158,-58],[.31,154,-37,180,-36,180,-57,170,-54,158,-46],[.335,158,-38,170,-50,175,-52,163,-42]];
const hyd80y15=[
[.13,0,-38,20,-38,22,-42,18,-50,12,-57,0,-61],[.25,0,-56,15,-50,12,-56,0,-60],[.31,0,-39.5,20.5,-40,17,-47,8,-53,0,-56],[.335,5,-49,14,-44,18,-42,10,-47],
[.13,78,-40,90,-39.5,101,-40,100,-44,97,-47,97,-52,92,-54,88,-54,82,-52,82,-47,79,-44],[.25,83,-46,96,-46,96,-51,92,-53,88,-53,83,-51],[.31,80,-41,99,-41,94,-45,90,-46.5,85,-45],[.335,84,-41,90,-44.5,95,-41,90,-43],
[.13,157,-38,168,-37.5,180,-37,180,-62,172,-60,162,-54,158,-44],[.25,162,-50,180,-56,180,-61,172,-59,163,-53],[.31,159,-39,180,-38.5,180,-57,172,-52,162,-46],[.335,162,-42,172,-50,177,-50,167,-43]];
const hyd80y20=[
[.13,0,-41.5,18.5,-41.5,17,-45,10,-51,0,-55.5],[.31,0,-43,17,-43,15,-45,8,-50,0,-54],[.335,3,-50,10,-46,13,-44,8,-47],
[.13,85,-44,90,-42,95,-44,93,-47,87,-47],[.25,87,-44,90,-43.5,93,-44,91,-46,89,-46],
[.13,160,-42,170,-41.5,180,-41.5,180,-57.5,172,-55,164,-50],[.31,163,-43,180,-43,180,-56,172,-53,166,-48],[.335,167,-45,175,-52,178,-52,170,-45]];

const hyd90y1=[
[.03,0,-76,15,-76,15,-86,8,-92,0,-93],[.05,0,-76,10,-76,8,-86,0,-88],[.03,73,-76,106,-76,102,-90,90,-93,78,-90],[.05,80,-76,98,-76,96,-88,90,-90,84,-88],[.03,165,-76,180,-76,180,-92,172,-88],[.05,172,-76,180,-76,180,-88,176,-85],
[.13,0,-30,20,-30,36,-32,36,-74,25,-76,0,-77],[.25,0,-32,34,-32,34,-73,24,-75,0,-75.5],[.27,0,-33,35,-33,20,-60,8,-72,0,-72],[.29,0,-33,35,-33,14,-50,0,-60],[.31,0,-33,35,-33,15,-40,0,-43],
[.13,51,-33,60,-31,90,-30,120,-31,127,-33,127,-74,115,-76,90,-77,65,-76,51,-74],[.25,53,-33,125,-33,125,-73,113,-75,90,-75.5,67,-75,53,-73],[.27,54,-33,124,-33,108,-55,90,-64,72,-55],[.29,54,-33,124,-33,108,-47,90,-56,72,-47],[.31,54,-33,124,-33,108,-40,90,-45,72,-40],
[.13,143,-32,160,-30,180,-29,180,-77,155,-76,143,-74],[.25,145,-33,180,-31,180,-75,155,-74,145,-72],[.27,145,-33,180,-32,180,-72,172,-72],[.29,145,-33,180,-32,180,-60,166,-50],[.31,145,-33,180,-32,180,-44,163,-40]];
const hyd90y5=[
[.13,0,-33,15,-33,26,-34,26,-65,22,-69,10,-71,0,-72],[.25,0,-46,22,-42,22,-65,18,-69,10,-70,0,-71],[.31,0,-34,25,-34.5,15,-44,0,-49],[.335,13,-37,24,-35,14,-43],[.13,22,-40,26,-40,26,-64,22,-64],
[.05,59,-50,61,-50,61,-62,59,-62],[.05,118,-50,120,-50,120,-62,118,-62],
[.13,61,-33,90,-32.5,118,-33,118,-68,105,-71,90,-72.5,75,-71,61,-68],[.25,65,-36,114,-36,114,-66,104,-70,90,-71,76,-70,65,-66],[.13,62,-40,68,-40,68,-62,62,-62],[.13,110,-40,117,-40,117,-62,110,-62],[.27,64,-35,116,-35,102,-50,90,-56,76,-50],[.31,63,-34,117,-34,104,-44,90,-50,74,-44],[.335,66,-35,80,-42,76,-35],[.335,100,-42,114,-35,104,-35],
[.13,152,-34,165,-33,180,-33,180,-73,170,-72,156,-68,152,-62],[.25,154,-40,180,-36,180,-72,170,-71,157,-67,154,-62],[.31,153,-34.5,180,-34,180,-51,168,-48,156,-40],[.335,155,-35,160,-36,168,-45,158,-40]];
const hyd90y10=[
[.13,0,-36.5,12,-36.5,21,-38,21,-42,18,-46,17,-58,10,-62,0,-64],[.25,0,-50,16,-46,15,-57,9,-61,0,-63],[.31,0,-37.5,19,-38.5,12,-46,0,-51.5],[.335,5,-46,16,-39,19,-39,10,-44],
[.13,67,-37,90,-36,112.5,-37,112,-40,107,-46,107,-58,100,-63,90,-64.5,78,-63,72,-58,72,-46,68,-40],[.25,74,-46,105,-46,104,-58,98,-62,90,-63,80,-62,75,-58],[.13,72,-46,75,-46,75,-58,72,-58],[.13,104,-46,107,-46,107,-58,104,-58],[.29,70,-40,110,-40,102,-48,90,-54,78,-48],[.31,69,-38,111,-38,102,-44,90,-51,78,-44],[.335,73,-39,90,-48,106,-39,90,-45],
[.13,157,-37,168,-36.5,180,-36.5,180,-64,170,-62,162,-58,161,-46,157,-42],[.25,163,-46,180,-50,180,-63,170,-61,163,-57],[.31,158,-38,180,-37.5,180,-52,168,-47],[.335,161,-39,172,-47,177,-45,165,-39]];
const hyd90y15=[
[.13,0,-40,15,-40,15,-46,10,-51,5,-54,0,-56],[.25,0,-52,9,-48,6,-52,0,-55],[.31,0,-41,13.5,-41,12,-46,6,-49,0,-51],[.335,2,-46,10,-43,12,-42,6,-45],
[.13,72,-38,90,-37.5,105.5,-38,105,-44,98,-50,97,-54,92,-57,88,-57,83,-54,82,-50,75,-44],[.25,80,-48,100,-48,95,-54,90,-56,85,-54],[.31,74,-39.5,104,-39.5,99,-46,90,-51,80,-46],[.335,77,-40,90,-46,102,-40,90,-43],
[.13,163,-39,172,-38.5,180,-38.5,180,-57,174,-55,168,-50,163,-44],[.25,168,-46,180,-50,180,-56,174,-54,169,-49],[.31,165,-40,180,-40,180,-52,172,-47],[.335,168,-42,175,-46,178,-46,170,-41]];
const hyd90y20=[
[.13,0,-42,10,-42,9,-46,4,-49,0,-50],[.31,0,-43.5,8,-43.5,7,-46,3,-48,0,-48.5],
[.13,76,-42,90,-41.5,101,-42,101,-46,94,-50,90,-51.5,84,-50,77,-46],[.25,80,-47,98,-47,92,-50,88,-50],[.31,78,-43,99,-43,94,-48,90,-49.5,84,-48],[.335,80,-43.5,90,-47,97,-43.5,90,-45],
[.13,168,-42,174,-41.5,180,-41.5,180,-52,174,-50,169,-46],[.31,170,-43,180,-43,180,-50,174,-47],[.25,172,-48,180,-50,180,-51,175,-49.5]];

const rowLabels=["70m","80m","90m"];
const panelLetters=["A","B","C","D","E","F"];
const bottomTitles=["Gas saturation","Hydrate saturation"];

// ---------- layout ----------
const gasStyle={levels:gasLevels,colors:gasColors,title:"S_gas"};
const hydStyle={levels:hydLevels,colors:hydColors,title:"S_hyd"};
const groups=[
 {letter:0,lx:1.5,ly:18,s:gasStyle,lefts:[64,206.7,349],tops:[27,146.7],w:127,h:104,wells:wells70,spans:gasSpans70,wellV:.035,wellW:3,
  panels:[gas0,gas70y1,gas70y5,gas70y10,gas70y15,gas70y20],bar:[480,56.7,13.3,190.3],tx:517.3,ty:50,lab:500,fs:8.6,tfs:8.8},
 {letter:1,lx:556.7,ly:17.5,s:hydStyle,lefts:[587.7,733.7,879.7],tops:[27,146.7],w:130,h:104,wells:wells70,spans:[hydSpan0],wellV:.07,wellW:2,
  panels:[hyd0,hyd70y1,hyd70y5,hyd70y10,hyd70y15,hyd70y20],bar:[1013.3,49.3,12.4,194.4],tx:1047,ty:44.3,lab:1031.7,fs:7.8,tfs:8.1},
 {letter:2,lx:1.5,ly:291,s:gasStyle,lefts:[64,207,350.3],tops:[296.7,416.3],w:127,h:104,wells:wells80,spans:gasSpans80,wellV:.035,wellW:3,
  panels:[gas0,gas80y1,gas80y5,gas80y10,gas80y15,gas80y20],bar:[481.3,323.3,13.7,192],tx:517.6,ty:316,lab:501,fs:8.6,tfs:8.8},
 {letter:3,lx:556.7,ly:291.7,s:hydStyle,lefts:[587.7,733.9,880],tops:[296.7,416.3],w:130.3,h:104,wells:wells80,spans:[hydSpan0],wellV:.07,wellW:2,
  panels:[hyd0,hyd80y1,hyd80y5,hyd80y10,hyd80y15,hyd80y20],bar:[1014,319.3,12.3,198],tx:1047,ty:314.3,lab:1032,fs:7.8,tfs:8.1},
 {letter:4,lx:1.5,ly:559.3,s:gasStyle,lefts:[64,206.7,349],tops:[567,686.3],w:127,h:104,wells:wells90,spans:gasSpans90,wellV:.035,wellW:3,
  panels:[gas0,gas90y1,gas90y5,gas90y10,gas90y15,gas90y20],bar:[480,598.3,13.3,188.4],tx:517,ty:591.7,lab:500,fs:8.6,tfs:8.8},
 {letter:5,lx:556.7,ly:559.3,s:hydStyle,lefts:[587.7,732.7,878],tops:[567,686.3],w:129,h:104,wells:wells90,spans:[hydSpan0],wellV:.07,wellW:2,
  panels:[hyd0,hyd90y1,hyd90y5,hyd90y10,hyd90y15,hyd90y20],bar:[1011,587,13,203],tx:1046.7,ty:582.3,lab:1030,fs:8,tfs:8.1}
];
const SANS="'Liberation Sans',Arial,sans-serif", SERIF="'Liberation Serif','Times New Roman',serif";
const svg=d3.select("#c");
const defs=svg.append("defs");
defs.append("filter").attr("id","soft").attr("x","-5%").attr("y","-5%").attr("width","110%").attr("height","110%")
  .append("feGaussianBlur").attr("stdDeviation",.5);
let clipN=0;

function drawPanel(g,grp,i){
  const left=grp.lefts[i%3], top=grp.tops[Math.floor(i/3)], W=grp.w, H=grp.h;
  const x=d3.scaleLinear([0,180],[left,left+W]);
  const z=d3.scaleLinear([-2,-148],[top,top+H]);
  const color=d3.scaleThreshold(grp.s.levels,grp.s.colors);
  const straight=d3.line().x(p=>x(p[0])).y(p=>z(p[1]));
  const smooth=d3.line().x(p=>x(p[0])).y(p=>z(p[1])).curve(d3.curveCatmullRomClosed.alpha(1));
  const id="cp"+(clipN++);
  defs.append("clipPath").attr("id",id).append("rect").attr("x",left).attr("y",top).attr("width",W).attr("height",H);
  const wrap=g.append("g").attr("clip-path",`url(#${id})`);
  const soft=wrap.append("g").attr("filter","url(#soft)");
  soft.append("rect").attr("x",left-4).attr("y",top-4).attr("width",W+8).attr("height",H+8).attr("fill",color(0));
  const layers=grp.panels[i];
  soft.selectAll("path.l").data(layers).join("path").attr("class","l")
    .attr("d",d=>{const pts=d3.range(1,d.length,2).map(k=>[d[k],d[k+1]]);
       return pts.length>=5 ? smooth(pts) : straight(pts)+"Z";})
    .attr("fill",d=>color(d[0]));
  const span=grp.spans[i];
  if(span){
    soft.selectAll("rect.w").data(grp.wells).join("rect").attr("class","w")
      .attr("x",d=>x(d-grp.wellW/2)).attr("width",x(grp.wellW)-x(0))
      .attr("y",z(span[0])).attr("height",z(span[1])-z(span[0]))
      .attr("fill",color(grp.wellV));
  }
  g.append("rect").attr("x",left).attr("y",top).attr("width",W).attr("height",H)
    .attr("fill","none").attr("stroke","#555046").attr("stroke-width",1);
  const ax=g.append("g").attr("transform",`translate(0,${top+H})`)
    .call(d3.axisBottom(x).tickValues(xTickValues).tickSize(1.2).tickPadding(1.8).tickFormat(String));
  const ay=g.append("g").attr("transform",`translate(${left},0)`)
    .call(d3.axisLeft(z).tickValues(zTickValues).tickSize(1).tickPadding(2).tickFormat(String));
  [ax,ay].forEach(a=>{a.select(".domain").remove();
    a.selectAll("line").attr("stroke","#777").attr("stroke-width",.5);
    a.selectAll("text").attr("fill","#555").attr("font-family",SANS).attr("font-size",5.3);});
  g.append("text").attr("x",left+W/2).attr("y",top+H+14).attr("text-anchor","middle")
    .attr("font-family",SERIF).attr("font-weight","bold").attr("font-size",7.6).attr("fill","#222").text("x/m");
  g.append("text").attr("transform",`translate(${left-5.5},${top+H/2}) rotate(-90)`).attr("text-anchor","middle")
    .attr("font-family",SERIF).attr("font-weight","bold").attr("font-size",7.6).attr("fill","#222").text("z/m");
  g.append("text").attr("x",left+W*.8).attr("y",top+13.7).attr("text-anchor","middle")
    .attr("font-family",SERIF).attr("font-weight","bold").attr("font-size",11.8).attr("fill","#fff").text(timeLabels[i]);
}
function drawBar(g,grp){
  const [bx,by,bw,bh]=grp.bar, L=grp.s.levels, n=L.length;
  const step=L[1]-L[0];
  const y=d3.scaleLinear([L[n-1]+step/2,L[0]-step/2],[by,by+bh]);
  const color=d3.scaleThreshold(L,grp.s.colors);
  const edges=[L[0]-step/2,...L,L[n-1]+step/2];
  const bands=d3.pairs(edges);
  g.selectAll("rect.b").data(bands).join("rect").attr("class","b")
    .attr("x",bx).attr("width",bw).attr("y",d=>y(d[1])).attr("height",d=>y(d[0])-y(d[1]))
    .attr("fill",d=>color((d[0]+d[1])/2));
  g.selectAll("line.s").data(L).join("line").attr("class","s")
    .attr("x1",bx).attr("x2",bx+bw).attr("y1",d=>y(d)).attr("y2",d=>y(d))
    .attr("stroke","rgba(40,70,40,.35)").attr("stroke-width",.6);
  g.append("rect").attr("x",bx).attr("y",by).attr("width",bw).attr("height",bh).attr("fill","none").attr("stroke","#bbb").attr("stroke-width",.6);
  g.selectAll("text.t").data(L).join("text").attr("class","t")
    .attr("x",grp.lab).attr("y",d=>y(d)+1.5+grp.fs*.36)
    .attr("font-family",SANS).attr("font-size",grp.fs).attr("fill","#333").text(d=>String(d));
  g.append("text").attr("x",grp.tx).attr("y",grp.ty).attr("text-anchor","end")
    .attr("font-family",SANS).attr("font-size",grp.tfs).attr("fill","#333").text(grp.s.title);
}
groups.forEach(grp=>{
  const g=svg.append("g");
  grp.panels.forEach((_,i)=>drawPanel(g,grp,i));
  drawBar(g,grp);
  g.append("text").attr("x",grp.lx).attr("y",grp.ly).attr("font-family",SANS).attr("font-weight","bold").attr("font-size",20).attr("fill","#000").text(panelLetters[grp.letter]);
});
svg.selectAll("text.row").data(rowLabels).join("text").attr("class","row")
  .attr("x",2).attr("y",(d,i)=>[153,423.3,693.3][i])
  .attr("font-family",SERIF).attr("font-weight","bold").attr("font-size",25).attr("fill","#000").text(d=>d);
svg.selectAll("text.bt").data(bottomTitles).join("text").attr("class","bt")
  .attr("x",(d,i)=>[279,798.5][i]).attr("y",826).attr("text-anchor","middle")
  .attr("font-family",SERIF).attr("font-weight","bold").attr("font-size",28).attr("fill","#000").text(d=>d);
</script></body></html>
